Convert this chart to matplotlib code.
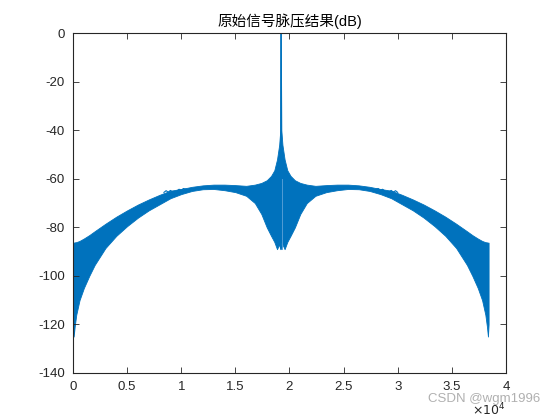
import matplotlib.pyplot as plt

plt.rcParams['font.family'] = ['Liberation Sans', 'Noto Sans CJK SC', 'DejaVu Sans']
plt.rcParams['axes.unicode_minus'] = False

# envelope of the pulse-compression output (sample index, dB)
x_nodes = [0, 60, 150, 300, 600, 1000, 1500, 2000, 3000, 4000, 5000, 6000, 7000,
           8000, 9000, 10000, 11000, 12000, 13000, 14000, 15000, 16000, 16800,
           17400, 17900, 18300, 18600, 18850, 19050, 19150, 19200, 19250, 19350,
           19550, 19800, 20100, 20500, 21000, 21600, 22400, 23400, 24400, 25400,
           26400, 27400, 28400, 29400, 30400, 31400, 32400, 33400, 34400, 35400,
           36400, 36900, 37400, 37800, 38100, 38250, 38340, 38400]
upper_db = [-86.3, -86.3, -86.2, -86.1, -85.6, -84.6, -83.2, -81.6, -78.5, -75.6,
            -73.0, -70.6, -68.5, -66.6, -64.9, -64.2, -63.3, -62.7, -62.4, -62.4,
            -62.6, -62.9, -62.4, -61.7, -60.6, -58.8, -56.5, -52.0, -46.0, -40.0,
            0.0,
            -40.0, -46.0, -52.0, -56.5, -58.8, -60.6, -61.7, -62.4, -62.9, -62.6,
            -62.4, -62.4, -62.7, -63.3, -64.2, -64.9, -66.6, -68.5, -70.6, -73.0,
            -75.6, -78.5, -81.6, -83.2, -84.6, -85.6, -86.1, -86.2, -86.3, -86.3]
lower_db = [-119, -125, -121, -116, -110, -105, -100, -95.5, -88.5, -83.5,
            -79.5, -76, -73, -70.5, -68, -66.3, -65.0, -64.3, -64.2, -64.7,
            -65.5, -67, -70, -74.5, -80, -83.5, -86, -89, -87, -89,
            -86,
            -89, -87, -89, -86, -83.5, -80, -74.5, -70, -67, -65.5,
            -64.7, -64.2, -64.3, -65.0, -66.3, -68, -70.5, -73, -76, -79.5,
            -83.5, -88.5, -95.5, -100, -105, -110, -116, -121, -125, -120]

# main lobe spike and the light streak beside it
spike_x = [19200, 19200]
spike_db = [-86, 0]
streak_x = [19300, 19300]
streak_db = [-89, -60]

# small ripples on the upper edge
ripple_left_x = [8400, 8600, 8800, 9000, 9200, 9400, 9600, 9800, 10000, 10200, 10400]
ripple_right_x = [28000, 28200, 28400, 28600, 28800, 29000, 29200, 29400, 29600, 29800, 30000]
ripple_left_db = [-65.6, -64.9, -65.5, -64.8, -65.4, -65.6, -65.0, -64.3, -64.8, -64.0, -64.3]
ripple_right_db = [-64.3, -64.0, -64.8, -64.3, -65.0, -65.6, -65.4, -64.8, -65.5, -64.9, -65.6]

x_ticks = [0, 5000, 10000, 15000, 20000, 25000, 30000, 35000, 40000]
x_tick_labels = ['0', '0.5', '1', '1.5', '2', '2.5', '3', '3.5', '4']
y_ticks = [-140, -120, -100, -80, -60, -40, -20, 0]

blue = '#0072BD'
dark = '#262626'

fig = plt.figure(figsize=(5.6, 4.2), dpi=100)
ax = fig.add_axes([0.1304, 0.112, 0.773, 0.809])

ax.fill_between(x_nodes, lower_db, upper_db, color=blue, linewidth=0.6, edgecolor=blue)
ax.plot(spike_x, spike_db, color=blue, linewidth=1.2)
ax.plot(streak_x, streak_db, color='#5fa3d8', linewidth=0.6)
ax.plot(ripple_left_x, ripple_left_db, color=blue, linewidth=0.8)
ax.plot(ripple_right_x, ripple_right_db, color=blue, linewidth=0.8)

ax.set_xlim(0, 40000)
ax.set_ylim(-140, 0)
ax.set_xticks(x_ticks)
ax.set_xticklabels(x_tick_labels)
ax.set_yticks(y_ticks)
ax.tick_params(direction='in', top=True, right=True, length=4, width=0.6,
               colors=dark, labelsize=9.5, pad=6)
for spine in ax.spines.values():
    spine.set_color(dark)
    spine.set_linewidth(0.8)

ax.set_title('原始信号脉压结果(dB)', fontsize=10.5, color='black', pad=5)
ax.text(1.0, -0.085, r'$\times10^4$', transform=ax.transAxes, ha='right', va='top',
        fontsize=9, color=dark)
fig.text(0.965, 0.05, 'CSDN @wgm1996', ha='right', va='center', fontsize=9.5,
         color='#b0b0b0')

fig.savefig('out.png', dpi=100)
